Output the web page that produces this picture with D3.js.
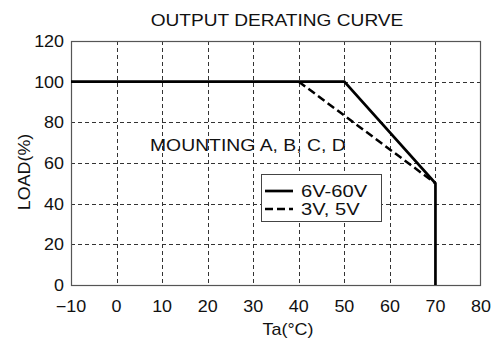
<!DOCTYPE html>
<html>
<head>
<meta charset="utf-8">
<script src="https://cdn.jsdelivr.net/npm/d3@7"></script>
<style>
  html, body { margin: 0; padding: 0; background: #fff; }
  svg { display: block; }
  text { font-family: "Liberation Sans", Arial, Helvetica, sans-serif; fill: #111; }
</style>
</head>
<body>
<svg id="chart" width="503" height="342"></svg>
<script>
// Ambient temperature ticks (°C) and load ticks (%)
const tempTicks = [-10, 0, 10, 20, 30, 40, 50, 60, 70, 80];
const loadTicks = [0, 20, 40, 60, 80, 100, 120];

// Derating curves
const seriesNames = ["6V-60V", "3V, 5V"];
const taWide = [-10, 50, 70, 70];
const loadWide = [100, 100, 50, 0];
const taLow = [40, 70];
const loadLow = [100, 50];

const titleText = "OUTPUT DERATING CURVE";
const noteText = "MOUNTING A, B, C, D";
const xTitle = "Ta(°C)";
const yTitle = "LOAD(%)";

const svg = d3.select("#chart");
const plotL = 71, plotR = 481, plotT = 41, plotB = 285;
const x = d3.scaleLinear().domain([-10, 80]).range([plotL, plotR]);
const y = d3.scaleLinear().domain([0, 120]).range([plotB, plotT]);

const SX = 1.12; // wide lettering

function label(g, px, py, str, size, anchor, sx) {
  return g.append("text")
    .attr("transform", `translate(${px},${py}) scale(${sx || SX},1)`)
    .attr("text-anchor", anchor || "start")
    .style("font-size", size + "px")
    .text(str);
}

// Grid
const grid = svg.append("g").attr("stroke", "#333").attr("stroke-width", 1)
  .attr("stroke-dasharray", "4,3");
grid.selectAll("line.v").data(tempTicks.filter(d => d > -10 && d < 80)).join("line")
  .attr("class", "v")
  .attr("x1", d => Math.round(x(d)) + 0.5).attr("x2", d => Math.round(x(d)) + 0.5)
  .attr("y1", plotT).attr("y2", plotB);
grid.selectAll("line.h").data(loadTicks.filter(d => d > 0 && d < 120)).join("line")
  .attr("class", "h")
  .attr("x1", plotL).attr("x2", plotR)
  .attr("y1", d => Math.round(y(d)) + 0.5).attr("y2", d => Math.round(y(d)) + 0.5);

// Frame
svg.append("rect")
  .attr("x", plotL + 0.5).attr("y", plotT + 0.5)
  .attr("width", plotR - plotL - 1).attr("height", plotB - plotT)
  .attr("fill", "none").attr("stroke", "#555").attr("stroke-width", 1.2);

// Curves
const line = d3.line().x(d => x(d[0])).y(d => y(d[1]));
svg.append("path")
  .datum(taLow.map((t, i) => [t, loadLow[i]]))
  .attr("d", line).attr("fill", "none").attr("stroke", "#000")
  .attr("stroke-width", 2.5).attr("stroke-dasharray", "8,4");
svg.append("path")
  .datum(taWide.map((t, i) => [t, loadWide[i]]))
  .attr("d", line).attr("fill", "none").attr("stroke", "#000")
  .attr("stroke-width", 2.7).attr("stroke-linejoin", "miter");

// Tick labels
const labels = svg.append("g");
tempTicks.forEach(t => {
  label(labels, x(t), 312, t < 0 ? "\u2212" + Math.abs(t) : String(t), 16, "middle");
});
loadTicks.forEach(v => {
  label(labels, 64, y(v) + 6, String(v), 16, "end");
});

// Titles
label(svg, 277, 26, titleText, 17, "middle", 1.125);
label(svg, 288, 335, xTitle, 16, "middle");
svg.append("text")
  .attr("transform", `translate(30,172) rotate(-90) scale(${SX},1)`)
  .attr("text-anchor", "middle").style("font-size", "16px").text(yTitle);
label(svg, 150, 151, noteText, 16, "start", 1.21);

// Legend
const lg = svg.append("g");
lg.append("rect").attr("x", 261.5).attr("y", 174.5).attr("width", 120).attr("height", 47)
  .attr("fill", "#fff").attr("stroke", "#444").attr("stroke-width", 1);
const legendRows = [191, 209];
seriesNames.forEach((name, i) => {
  lg.append("line").attr("x1", 265).attr("x2", 293)
    .attr("y1", legendRows[i]).attr("y2", legendRows[i])
    .attr("stroke", "#000").attr("stroke-width", i === 0 ? 2.7 : 2.5)
    .attr("stroke-dasharray", i === 0 ? null : "8,4");
  label(lg, 301, legendRows[i] + 6, name, 16, "start", 1.26);
});
</script>
</body>
</html>
